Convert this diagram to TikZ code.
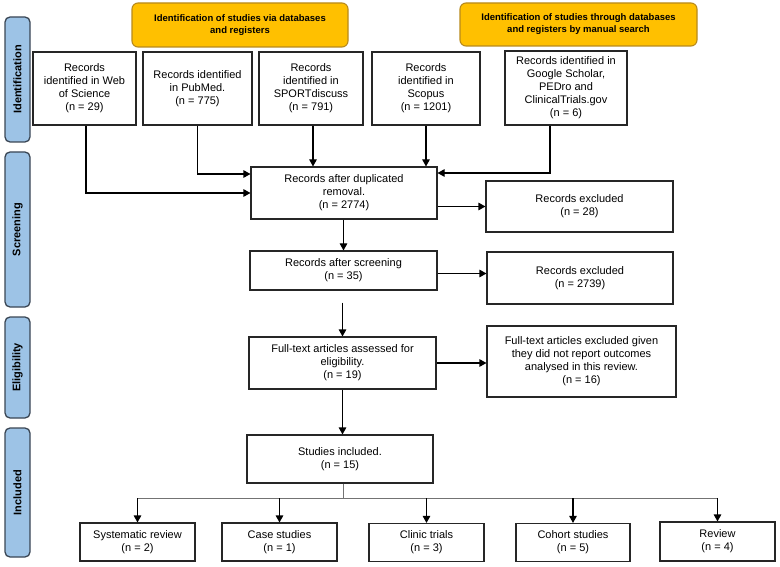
\documentclass[tikz,border=0pt]{standalone}
\usepackage{fontspec}
\setmainfont{Liberation Sans}
\usetikzlibrary{arrows.meta}
\definecolor{sideblue}{HTML}{9DC3E6}
\definecolor{sideedge}{HTML}{3A4654}
\definecolor{headorange}{HTML}{FFC000}
\definecolor{headedge}{HTML}{B88A1C}
\tikzset{
  box/.style={draw=black!85, line width=1.1pt, fill=white, align=center, inner sep=2pt,
    font=\fontsize{11}{13}\selectfont},
  side/.style={draw=sideedge, line width=1.3pt, fill=sideblue, rounded corners=5pt,
    minimum width=25pt, font=\fontsize{11}{12}\selectfont\bfseries},
  head/.style={draw=headedge, line width=1.1pt, fill=headorange, rounded corners=6pt,
    align=center, font=\fontsize{9.5}{12}\selectfont\bfseries},
  arr/.style={draw=black, line width=1.1pt, -{Triangle[length=7pt,width=7.5pt]}},
  ln/.style={draw=black, line width=1.1pt},
  gln/.style={draw=black!55, line width=0.9pt}
}
\begin{document}
\begin{tikzpicture}[x=1pt,y=-1pt]
\useasboundingbox (0,0) rectangle (780,567);
% side bars
\node[side, minimum height=125pt] (sid) at (17.5,79.5) {\rotatebox{90}{Identification}};
\node[side, minimum height=155pt] (ssc) at (17.5,229.5) {\rotatebox{90}{Screening}};
\node[side, minimum height=101pt] (sel) at (17.5,367.5) {\rotatebox{90}{Eligibility}};
\node[side, minimum height=129pt] (sin) at (17.5,492.5) {\rotatebox{90}{Included}};
% headers
\node[head, minimum width=216pt, minimum height=44pt] (h1) at (240,25) {Identification of studies via databases\\and registers};
\node[head, minimum width=237pt, minimum height=43pt] (h2) at (578.5,24.5) {Identification of studies through databases\\and registers by manual search};
% identification boxes
\node[box, minimum width=103pt, minimum height=73pt] (wos) at (84.5,88.5) {Records\\identified in Web\\of Science\\(n = 29)};
\node[box, minimum width=109pt, minimum height=73pt] (pub) at (197.5,88.5) {Records identified\\in PubMed.\\(n = 775)};
\node[box, minimum width=104pt, minimum height=73pt] (spo) at (311,88.5) {Records\\identified in\\SPORTdiscuss\\(n = 791)};
\node[box, minimum width=108pt, minimum height=73pt] (sco) at (426,88.5) {Records\\identified in\\Scopus\\(n = 1201)};
\node[box, minimum width=122pt, minimum height=74pt] (goo) at (566,88) {Records identified in\\Google Scholar,\\PEDro and\\ClinicalTrials.gov\\(n = 6)};
% screening
\node[box, minimum width=186pt, minimum height=52pt] (dup) at (344,193) {Records after duplicated\\removal.\\(n = 2774)};
\node[box, minimum width=187pt, minimum height=51pt] (ex1) at (579.5,206.5) {Records excluded\\(n = 28)};
\node[box, minimum width=187pt, minimum height=39pt] (scr) at (343.5,270.5) {Records after screening\\(n = 35)};
\node[box, minimum width=186pt, minimum height=52pt] (ex2) at (580,278) {Records excluded\\(n = 2739)};
% eligibility
\node[box, minimum width=187pt, minimum height=52pt] (ft) at (342.5,363) {Full-text articles assessed for\\eligibility.\\(n = 19)};
\node[box, minimum width=189pt, minimum height=71pt] (ex3) at (581.5,361.5) {Full-text articles excluded given\\they did not report outcomes\\analysed in this review.\\(n = 16)};
% included
\node[box, minimum width=186pt, minimum height=48pt] (inc) at (340,459) {Studies included.\\(n = 15)};
\node[box, minimum width=115pt, minimum height=38pt] (b1) at (137.5,542) {Systematic review\\(n = 2)};
\node[box, minimum width=115pt, minimum height=38pt] (b2) at (279.5,542) {Case studies\\(n = 1)};
\node[box, minimum width=115pt, minimum height=38pt] (b3) at (426.5,542.5) {Clinic trials\\(n = 3)};
\node[box, minimum width=114pt, minimum height=38pt] (b4) at (573,542.5) {Cohort studies\\(n = 5)};
\node[box, minimum width=115pt, minimum height=39pt] (b5) at (717.5,541.5) {Review\\(n = 4)};
% connectors
\draw[arr] ([xshift=1.5pt]wos.south) |- (dup.west);
\draw[arr] (pub.south) |- ([yshift=19pt]dup.west);
\draw[arr] ([xshift=2pt]spo.south) -- ([xshift=2pt]spo.south |- dup.north);
\draw[arr] (sco.south) -- (sco.south |- dup.north);
\draw[arr] ([xshift=-16pt]goo.south) |- ([yshift=20pt]dup.east);
\draw[arr] (dup.east |- ex1.west) -- (ex1.west);
\draw[arr] (scr.north |- dup.south) -- (scr.north);
\draw[arr] ([yshift=-3pt]scr.east) -- ([yshift=-3pt]scr.east -| ex2.west);
\draw[arr] ([yshift=-12pt]ft.north |- scr.south) -- (ft.north);
\draw[arr] (ft.east) -- (ft.east -| ex3.west);
\draw[arr] (ft.south) -- (ft.south |- inc.north);
\coordinate (br) at (343,498);
\draw[gln] (inc.south -| br) -- (br);
\draw[gln] (b1.north |- br) -- (b5.north |- br);
\foreach \b in {b1,b2,b3,b4,b5}{
  \draw[arr] (\b.north |- br) -- (\b.north);
}
\end{tikzpicture}
\end{document}
